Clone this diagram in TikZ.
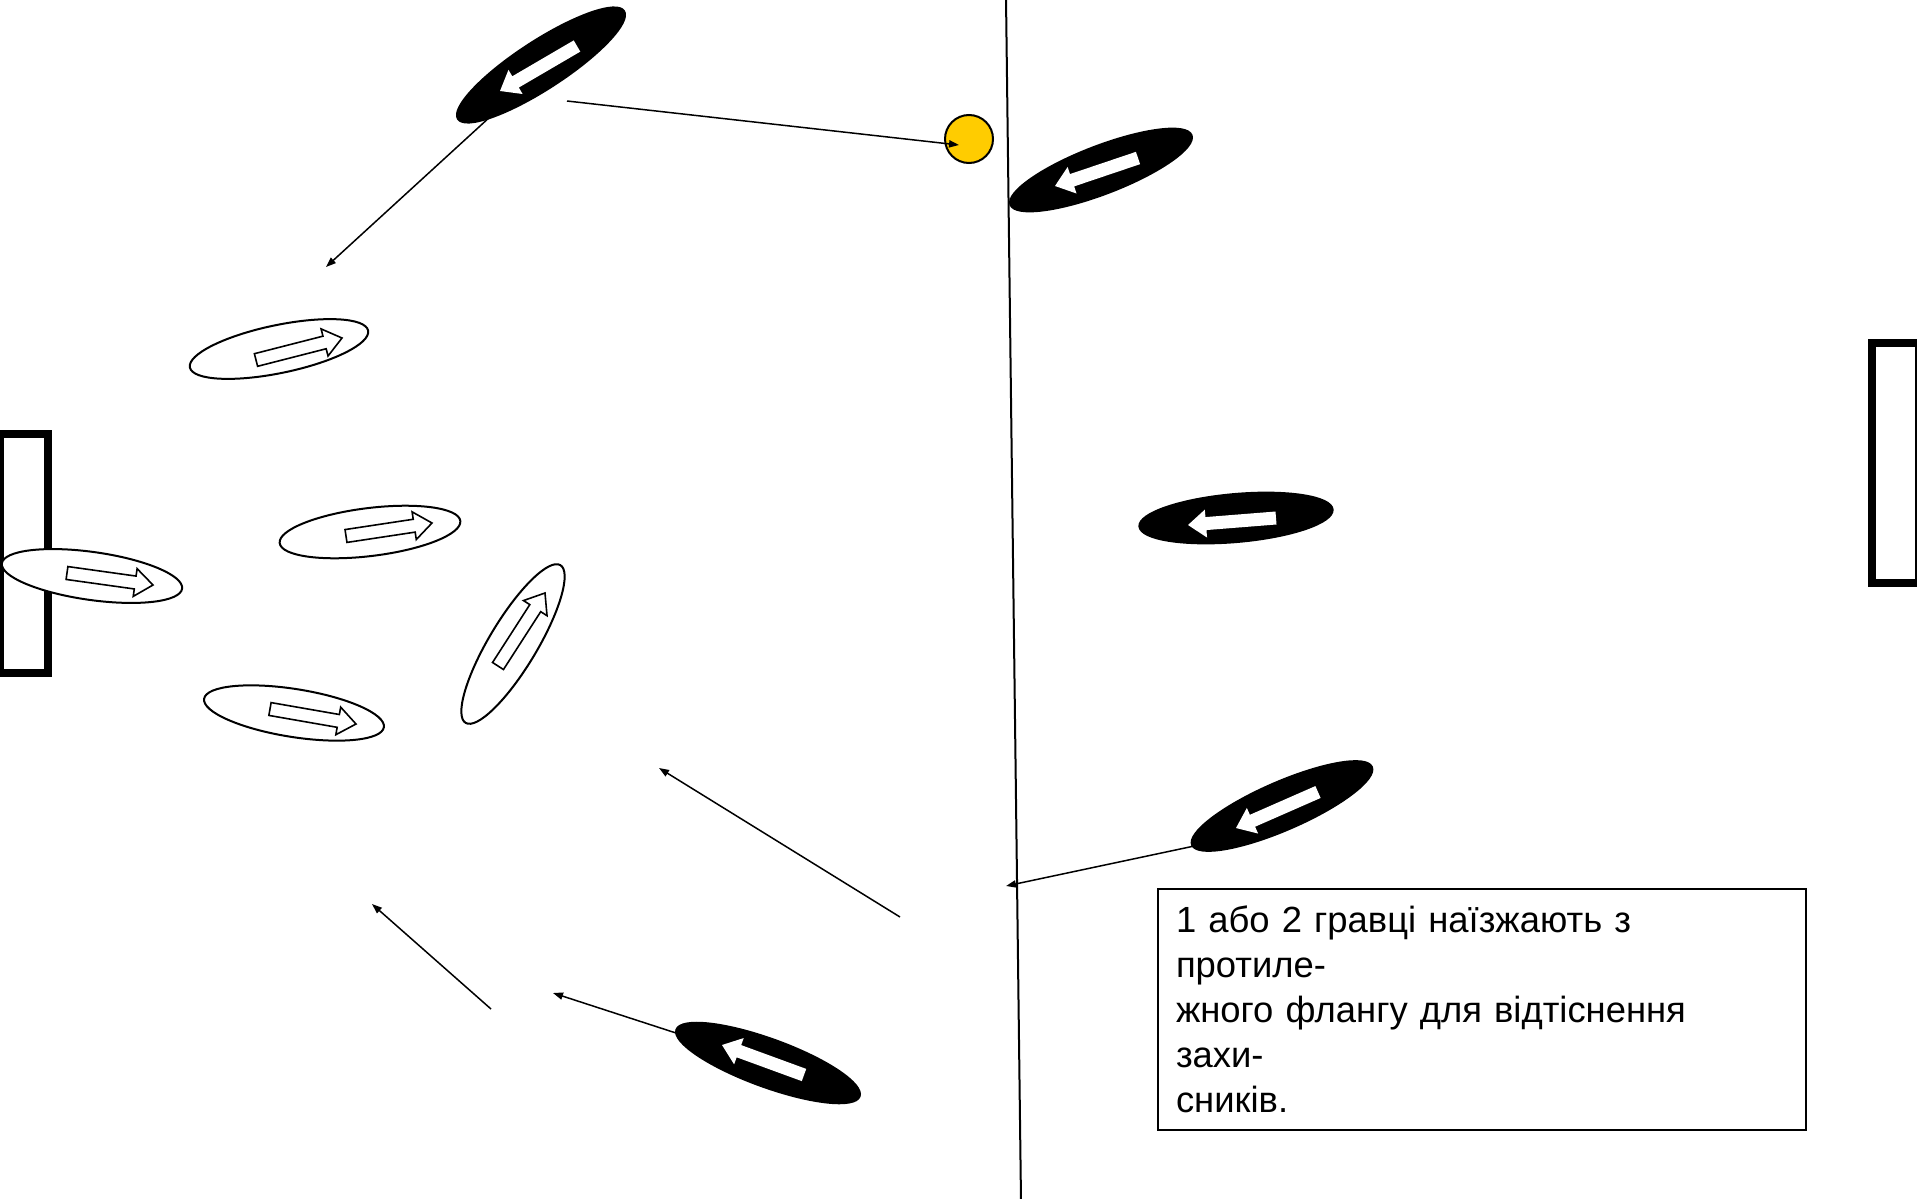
\documentclass[tikz,border=0pt]{standalone}
\usepackage{fontspec}
\setmainfont{Liberation Sans}
\usetikzlibrary{calc,shapes.geometric,arrows.meta}
\definecolor{ballyellow}{RGB}{255,204,0}
\newcommand\plarrow[3]{%
  \coordinate (pn) at ($(#2)!9pt!(#1)$);
  \path[#3] ($(#1)!3.25pt!90:(#2)$) -- ($(pn)!3.25pt!90:(#2)$) -- ($(pn)!7pt!90:(#2)$) -- (#2)
    -- ($(pn)!7pt!-90:(#2)$) -- ($(pn)!3.25pt!-90:(#2)$) -- ($(#1)!3.25pt!-90:(#2)$) -- cycle;}
\tikzset{
  blackpl/.style={ellipse, draw=black, fill=black, line width=1pt, inner sep=0pt, minimum height=24pt},
  whitepl/.style={ellipse, draw=black, fill=white, line width=1pt, inner sep=0pt, minimum width=91pt, minimum height=24pt},
  warrow/.style={fill=white, draw=none},
  oarrow/.style={fill=white, draw=black, line width=0.8pt, line join=miter},
  conn/.style={draw=black, line width=0.75pt, -{Triangle[length=5pt,width=3.6pt]}},
  goal/.style={draw=black, line width=4pt},
}
\begin{document}
\begin{tikzpicture}[x=0.5pt,y=-0.5pt]
\useasboundingbox (0,0) rectangle (1917,1199);
\clip (0,0) rectangle (1917,1199);
% goals
\draw[goal] (0,434) rectangle (48,673);
\draw[goal] (1872,343) rectangle (1919,583);
% half-way line
\coordinate (vtop) at (1006,-2);
\coordinate (vbot) at (1021,1201);
\draw[line width=1pt] (vtop) -- (vbot);
% black players
\node[blackpl, minimum width=99pt, rotate=33] (b1) at (541,65) {};
\plarrow{577,46}{500,91}{warrow}
\node[blackpl, minimum width=97pt, rotate=21] (b2) at (1101,170) {};
\plarrow{1138,158}{1055,186}{warrow}
\node[blackpl, minimum width=97pt, rotate=5] (b3) at (1236,518) {};
\plarrow{1276,518}{1188,525}{warrow}
\node[blackpl, minimum width=98pt, rotate=23.5] (b4) at (1282,806) {};
\plarrow{1318,792}{1236,828}{warrow}
\node[blackpl, minimum width=97.5pt, rotate=-20] (b5) at (768,1063) {};
\plarrow{804,1075}{722,1045}{warrow}
% white players
\node[whitepl, rotate=11.7] (w1) at (279,349) {};
\plarrow{256,360}{342,338}{oarrow}
\node[whitepl, rotate=7] (w2) at (370,532) {};
\plarrow{346,536}{432,523}{oarrow}
\node[whitepl, rotate=-8] (w3) at (92,576) {};
\plarrow{67,573}{153,585}{oarrow}
\node[whitepl, rotate=-9] (w4) at (294,713) {};
\plarrow{270,709}{356,724}{oarrow}
\node[whitepl, minimum width=92pt, rotate=59] (w5) at (513,644) {};
\plarrow{498,666}{545,593}{oarrow}
% ball
\node[circle, draw=black, fill=ballyellow, line width=1pt, inner sep=0pt, minimum size=24pt] (ball) at (969,139) {};
% connector end points
\coordinate (c1a) at (567,101);  \coordinate (c1b) at (959,145);
\coordinate (c2a) at (491,116);  \coordinate (c2b) at (326,267);
\coordinate (c3a) at (1199,845); \coordinate (c3b) at (1006,886);
\coordinate (c4a) at (676,1033); \coordinate (c4b) at (553,993);
\coordinate (c5a) at (900,917);  \coordinate (c5b) at (659,768);
\coordinate (c6a) at (491,1009); \coordinate (c6b) at (372,904);
\draw[conn] (c1a) -- (c1b);
\draw[conn] (c2a) -- (c2b);
\draw[conn] (c3a) -- (c3b);
\draw[conn] (c4a) -- (c4b);
\draw[conn] (c5a) -- (c5b);
\draw[conn] (c6a) -- (c6b);
% note
\node[draw=black, line width=1pt, anchor=north west, align=left, text width=306pt,
      inner xsep=9pt, inner ysep=0pt, minimum height=120.5pt,
      font=\fontsize{18.2pt}{22.5pt}\selectfont] (note) at (1157,888)
  {1 або 2 гравці наїзжають з\\протиле-\\жного флангу для відтіснення\\захи-\\сників.};
\end{tikzpicture}
\end{document}
